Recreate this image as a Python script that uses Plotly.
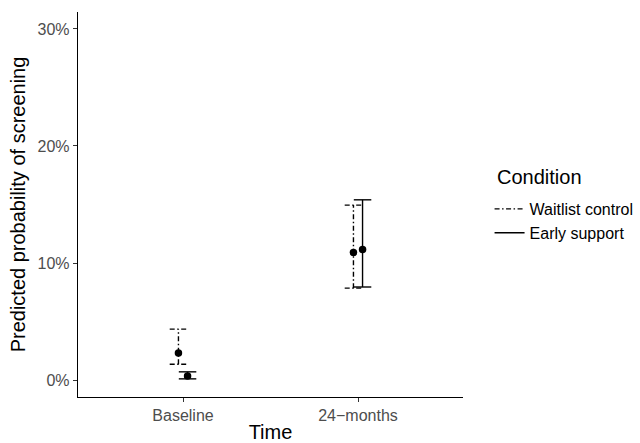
import plotly.graph_objects as go

times = ["Baseline", "24\u2212months"]
conditions = ["Waitlist control", "Early support"]
estimate = {"Waitlist control": [2.3, 10.9], "Early support": [0.35, 11.15]}
lower = {"Waitlist control": [1.35, 7.85], "Early support": [0.1, 7.95]}
upper = {"Waitlist control": [4.35, 14.95], "Early support": [0.7, 15.4]}
dashes = {"Waitlist control": "5px,2.5px,1.5px,2.5px", "Early support": "solid"}
yticks = [0, 10, 20, 30]
ytick_labels = ["0%", "10%", "20%", "30%"]

dodge = {"Waitlist control": -0.026, "Early support": 0.026}
cap = 0.05

fig = go.Figure()
for cond in conditions:
    xs, ys = [], []
    for i, t in enumerate(times):
        xc = i + 1 + dodge[cond]
        lo, hi = lower[cond][i], upper[cond][i]
        xs += [xc, xc, None, xc - cap, xc + cap, None, xc - cap, xc + cap, None]
        ys += [lo, hi, None, lo, lo, None, hi, hi, None]
    fig.add_trace(go.Scatter(
        x=xs, y=ys, mode="lines", name=cond,
        line=dict(color="black", width=1.4, dash=dashes[cond]),
        hoverinfo="skip"))
for cond in conditions:
    fig.add_trace(go.Scatter(
        x=[i + 1 + dodge[cond] for i in range(len(times))],
        y=estimate[cond], mode="markers", showlegend=False, name=cond,
        marker=dict(color="black", size=7.5)))

fig.add_annotation(
    text="Condition", xref="paper", yref="paper",
    x=(495 - 78) / 385, xanchor="left", y=(397 - 177) / 385, yanchor="middle",
    showarrow=False, font=dict(size=20, color="black"))

fig.update_layout(
    width=640, height=443,
    margin=dict(l=78, r=177, t=12, b=46, autoexpand=False),
    paper_bgcolor="white", plot_bgcolor="white",
    font=dict(family="Liberation Sans, Arial, sans-serif", color="black"),
    showlegend=True,
    legend=dict(
        font=dict(size=16, color="black"),
        x=1.069, xanchor="left", y=(397 - 192) / 385, yanchor="top",
        tracegroupgap=0, itemwidth=30,
    ),
    xaxis=dict(
        range=[0.4, 2.6], tickvals=[1, 2], ticktext=times, automargin=False,
        showgrid=False, zeroline=False, showline=True, linecolor="black",
        linewidth=1.4, ticks="outside", ticklen=4, tickcolor="#333333",
        tickfont=dict(size=16, color="#4D4D4D"),
        title=dict(text="Time", font=dict(size=20, color="black"), standoff=6),
    ),
    yaxis=dict(
        range=[-1.45, 31.45], tickvals=yticks, ticktext=ytick_labels, automargin=False,
        showgrid=False, zeroline=False, showline=True, linecolor="black",
        linewidth=1.4, ticks="outside", ticklen=4, tickcolor="#333333",
        tickfont=dict(size=16, color="#4D4D4D"),
        title=dict(text="Predicted probability of screening",
                   font=dict(size=20, color="black"), standoff=6),
    ),
)

fig.write_html("out.html", config={"displayModeBar": False},
               post_script="document.body.style.margin='0px';")
